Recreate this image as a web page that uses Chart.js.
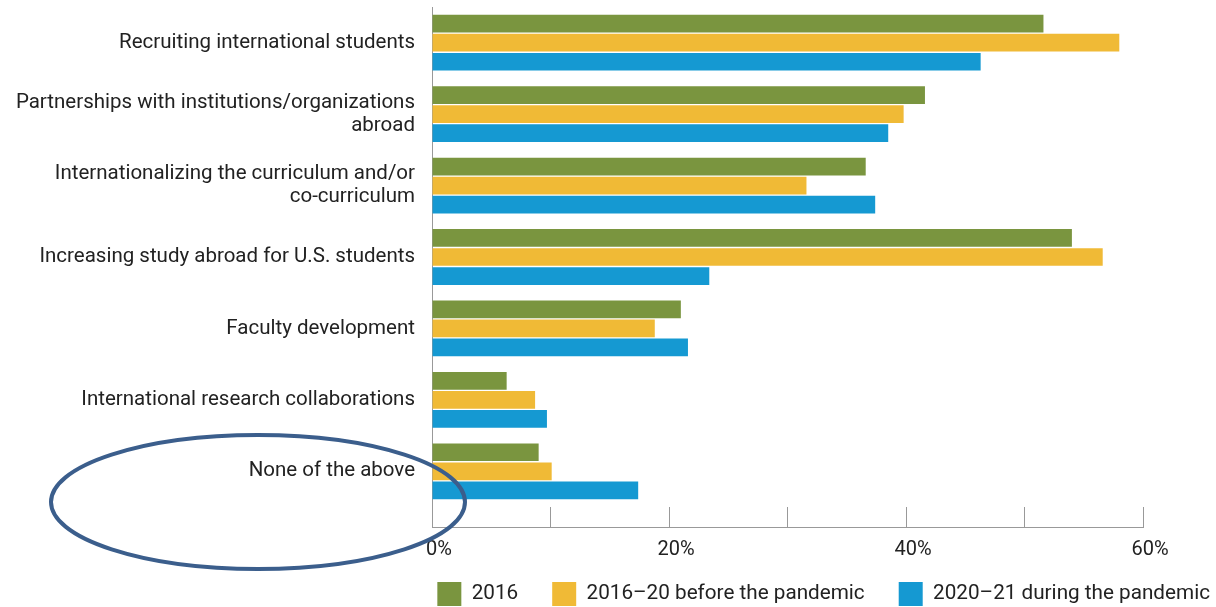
<!DOCTYPE html>
<html>
<head>
<meta charset="utf-8">
<script src="https://cdn.jsdelivr.net/npm/chart.js@4/dist/chart.umd.min.js"></script>
<style>
  html, body { margin: 0; padding: 0; background: #fff; }
  #wrap { width: 1216px; height: 607px; }
</style>
</head>
<body>
<div id="wrap"><canvas id="chart"></canvas></div>
<script>
// data
const categories = [
  'Recruiting international students',
  ['Partnerships with institutions/organizations', 'abroad'],
  ['Internationalizing the curriculum and/or', 'co-curriculum'],
  'Increasing study abroad for U.S. students',
  'Faculty development',
  'International research collaborations',
  'None of the above'
];
const seriesNames = ['2016', '2016\u201320 before the pandemic', '2020\u201321 during the pandemic'];
const values2016 = [51.6, 41.6, 36.6, 54.0, 21.0, 6.3, 9.0];
const valuesBefore = [58.0, 39.8, 31.6, 56.6, 18.8, 8.7, 10.1];
const valuesDuring = [46.3, 38.5, 37.4, 23.4, 21.6, 9.7, 17.4];
const colors = ['#7a953f', '#f0ba36', '#1599d2'];

const FONT = 'Roboto, "Noto Sans", sans-serif';

// baseline under the x ticks + the circled annotation
const extras = {
  id: 'extras',
  afterLayout(chart) {
    // x tick labels hang below the (short) axis box, don't clip them
    chart.scales.x.bottom = chart.height;
  },
  afterDraw(chart) {
    const { ctx, chartArea, scales } = chart;
    const y = chartArea.bottom + 21;
    ctx.save();
    ctx.strokeStyle = '#999';
    ctx.lineWidth = 1;
    ctx.beginPath();
    ctx.moveTo(chartArea.left, y - 0.5);
    ctx.lineTo(scales.x.getPixelForValue(60) + 0.5, y - 0.5);
    ctx.stroke();

    ctx.strokeStyle = '#3b5e8c';
    ctx.lineWidth = 4;
    ctx.beginPath();
    ctx.ellipse(258, 502, 207, 67, 0, 0, Math.PI * 2);
    ctx.stroke();
    ctx.restore();
  }
};

new Chart(document.getElementById('chart'), {
  type: 'bar',
  data: {
    labels: categories,
    datasets: [
      { label: seriesNames[0], data: values2016, backgroundColor: colors[0] },
      { label: seriesNames[1], data: valuesBefore, backgroundColor: colors[1] },
      { label: seriesNames[2], data: valuesDuring, backgroundColor: colors[2] }
    ]
  },
  options: {
    indexAxis: 'y',
    responsive: true,
    maintainAspectRatio: false,
    animation: false,
    categoryPercentage: 0.8,
    barPercentage: 0.93,
    layout: { padding: { top: 7, right: -28, left: 0, bottom: -9 } },
    scales: {
      x: {
        min: 0,
        max: 60,
        grid: { drawOnChartArea: false, tickLength: 21, color: '#999' },
        border: { display: false },
        ticks: {
          stepSize: 10,
          autoSkip: false,
          maxRotation: 0,
          padding: 10,
          labelOffset: 7,
          color: '#222',
          font: { family: FONT, size: 20 },
          callback: (v) => (v % 20 === 0 ? v + '%' : '')
        },
        afterFit: (s) => { s.height = 41; s.paddingLeft = 0; s.paddingRight = 73; }
      },
      y: {
        grid: { display: false, drawTicks: false },
        border: { display: true, color: '#999', width: 1 },
        ticks: {
          padding: 17,
          color: '#222',
          font: { family: FONT, size: 20.5, lineHeight: 1.12 }
        },
        afterFit: (s) => { s.width = 432; s.paddingTop = 0; s.paddingBottom = 0; }
      }
    },
    plugins: {
      legend: {
        position: 'bottom',
        align: 'end',
        labels: {
          boxWidth: 24,
          boxHeight: 24,
          padding: 34,
          color: '#222',
          font: { family: FONT, size: 20.7 }
        }
      },
      tooltip: { enabled: false }
    }
  },
  plugins: [extras]
});
</script>
</body>
</html>
